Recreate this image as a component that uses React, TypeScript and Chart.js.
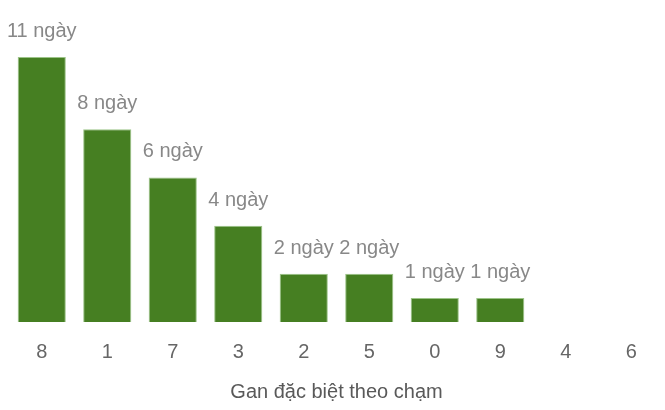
import React, { useEffect, useRef } from "react";
import { Chart, registerables } from "chart.js";

Chart.register(...registerables);

const categories = ["8", "1", "7", "3", "2", "5", "0", "9", "4", "6"];
const values = [11, 8, 6, 4, 2, 2, 1, 1, 0, 0];
const unit = "ngày";
const axisTitle = "Gan đặc biệt theo chạm";

const FONT = "'Liberation Sans', Arial, sans-serif";

const valueLabels = {
  id: "valueLabels",
  afterDatasetsDraw(chart: any) {
    const ctx = chart.ctx;
    const meta = chart.getDatasetMeta(0);
    ctx.save();
    ctx.font = `20px ${FONT}`;
    ctx.fillStyle = "#888888";
    ctx.textAlign = "center";
    ctx.textBaseline = "alphabetic";
    meta.data.forEach((bar: any, i: number) => {
      const v = values[i];
      if (!v) return;
      ctx.fillText(`${v} ${unit}`, bar.x, bar.y - 20);
    });
    ctx.restore();
  },
};

export default function App() {
  const ref = useRef<HTMLCanvasElement | null>(null);

  useEffect(() => {
    document.body.style.margin = "0";
    if (!ref.current) return;
    const chart = new Chart(ref.current, {
      type: "bar",
      data: {
        labels: categories,
        datasets: [
          {
            data: values,
            backgroundColor: "#467f22",
            borderColor: "#9cc488",
            borderWidth: 1,
            categoryPercentage: 1,
            barPercentage: 0.735,
          },
        ],
      },
      options: {
        animation: false,
        responsive: false,
        devicePixelRatio: 1,
        layout: { padding: { left: 9, right: 1, top: 57, bottom: 0 } },
        plugins: {
          legend: { display: false },
          tooltip: { enabled: false },
        },
        scales: {
          x: {
            grid: { display: false, drawTicks: false },
            border: { display: false },
            ticks: {
              color: "#666666",
              font: { family: FONT, size: 20 },
              padding: 18.5,
            },
            title: {
              display: true,
              text: axisTitle,
              color: "#595959",
              font: { family: FONT, size: 20 },
              padding: { top: -2.5, bottom: 5.5 },
            },
          },
          y: {
            display: false,
            min: 0,
            max: 11,
          },
        },
      },
      plugins: [valueLabels],
    });
    return () => chart.destroy();
  }, []);

  return (
    <div style={{ width: 665, height: 410 }}>
      <canvas ref={ref} width={665} height={410} style={{ display: "block" }} />
    </div>
  );
}
